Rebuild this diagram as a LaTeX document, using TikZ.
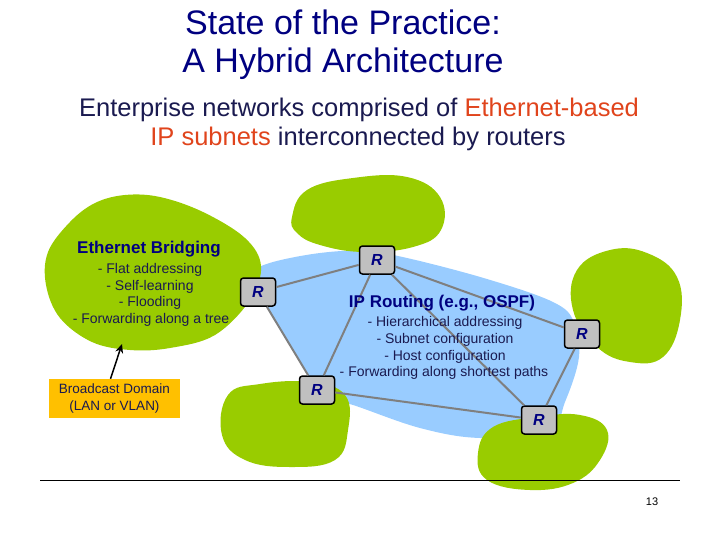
\documentclass[tikz,border=0pt]{standalone}
\usepackage{fontspec}
\setmainfont{Liberation Sans}
\usetikzlibrary{arrows.meta}
\definecolor{navy}{HTML}{000080}
\definecolor{subnavy}{HTML}{1A1A50}
\definecolor{hired}{HTML}{E0441C}
\definecolor{blobgreen}{HTML}{99CC00}
\definecolor{blobblue}{HTML}{99CCFF}
\definecolor{routergray}{HTML}{C0C0C0}
\definecolor{linkgray}{HTML}{7F7F7F}
\definecolor{bcastorange}{HTML}{FFC000}
\begin{document}
\begin{tikzpicture}[x=1pt,y=-1pt,
  router/.style={draw=black, line width=1.5pt, fill=routergray, rounded corners=3pt,
    minimum width=35pt, minimum height=28pt, inner sep=0pt,
    font=\fontsize{16}{16}\selectfont\bfseries\itshape, text=navy},
  link/.style={draw=linkgray, line width=2pt},
  titletext/.style={anchor=base, text=navy, font=\fontsize{34}{34}\selectfont},
  subtext/.style={anchor=base, text=subnavy, font=\fontsize{25.5}{25.5}\selectfont},
  headtext/.style={anchor=base, text=navy, font=\fontsize{17}{17}\selectfont\bfseries},
  bodytext/.style={anchor=base, text=subnavy, font=\fontsize{14}{14}\selectfont},
  blob/.style={fill=blobgreen}
]
\useasboundingbox (0,0) rectangle (720,540);

% blue routing area
\fill[blobblue] plot[smooth cycle, tension=0.6] coordinates {
  (253,272) (273,262) (320,253) (363,251) (407,258) (487,279) (553,302) (574,322)
  (579,357) (565,402) (548,432) (480,438) (420,428) (353,405) (325,398) (297,357)
  (270,313) (256,287)};

% green subnets
\fill[blob] plot[smooth cycle, tension=0.6] coordinates {
  (125,195) (160,197) (203,212) (245,238) (261,266) (250,300) (215,335) (170,348)
  (130,350) (92,342) (60,318) (46,285) (48,252) (70,222) (95,203)};
\fill[blob] plot[smooth cycle, tension=0.7] coordinates {
  (292,217) (307,190) (353,178) (407,177) (440,197) (441,230) (413,247) (363,252)
  (320,245) (297,233)};
\fill[blob] plot[smooth cycle, tension=0.7] coordinates {
  (577,270) (610,250) (647,253) (677,277) (680,320) (663,357) (630,362) (597,347)
  (573,310)};
\fill[blob] plot[smooth cycle, tension=0.7] coordinates {
  (228,395) (260,384) (310,382) (345,395) (348,430) (335,460) (290,467) (245,460)
  (222,435)};
\fill[blob] plot[smooth cycle, tension=0.7] coordinates {
  (478,453) (493,427) (537,417) (580,415) (607,430) (600,460) (573,483) (530,490)
  (487,480)};

% routers
\node[router] (rt) at (377,260) {R};
\node[router] (rl) at (258,292) {R};
\node[router] (rbl) at (317,390) {R};
\node[router] (rr) at (582,334) {R};
\node[router] (rbr) at (539,420) {R};

% links
\draw[link] (rl) -- (rt);
\draw[link] (rl) -- (rbl);
\draw[link] (rt) -- (rbl);
\draw[link] (rt) -- (rr);
\draw[link] (rt) -- (rbr);
\draw[link] (rr) -- (rbr);
\draw[link] (rbl) -- (rbr);

% titles
\node[titletext] (t1) at (343,35) {State of the Practice:};
\node[titletext] (t2) at (343,73) {A Hybrid Architecture};
\node[subtext] (s1) at (359,117) {Enterprise networks comprised of \textcolor{hired}{Ethernet-based}};
\node[subtext] (s2) at (358,146) {\textcolor{hired}{IP subnets} interconnected by routers};

% Ethernet bridging text
\node[headtext] (eh) at (149,254) {Ethernet Bridging};
\node[bodytext] (e1) at (150,273) {- Flat addressing};
\node[bodytext] (e2) at (150,290) {- Self-learning};
\node[bodytext] (e3) at (150,306) {- Flooding};
\node[bodytext] (e4) at (151,323) {- Forwarding along a tree};

% IP routing text
\node[headtext] (ih) at (442,307) {IP Routing (e.g., OSPF)};
\node[bodytext] (i1) at (445,326) {- Hierarchical addressing};
\node[bodytext] (i2) at (445,343) {- Subnet configuration};
\node[bodytext] (i3) at (445,360) {- Host configuration};
\node[bodytext] (i4) at (444,376) {- Forwarding along shortest paths};

% broadcast domain box
\node[fill=bcastorange, minimum width=131pt, minimum height=39pt, inner sep=0pt,
  align=center, text=subnavy, font=\fontsize{13.5}{17.5}\selectfont] (bc) at (114.5,398.5)
  {Broadcast Domain\\(LAN or VLAN)};
\coordinate (ahead) at (122,344);
\draw[line width=1.5pt, -{Stealth[length=9pt,width=8pt]}] ([xshift=-4pt]bc.north) -- (ahead);

% footer
\coordinate (fl) at (40,480);
\coordinate (fr) at (680,480);
\draw[line width=0.8pt] (fl) -- (fr);
\node[font=\fontsize{11}{11}\selectfont] (pg) at (652,502) {13};
\end{tikzpicture}
\end{document}
